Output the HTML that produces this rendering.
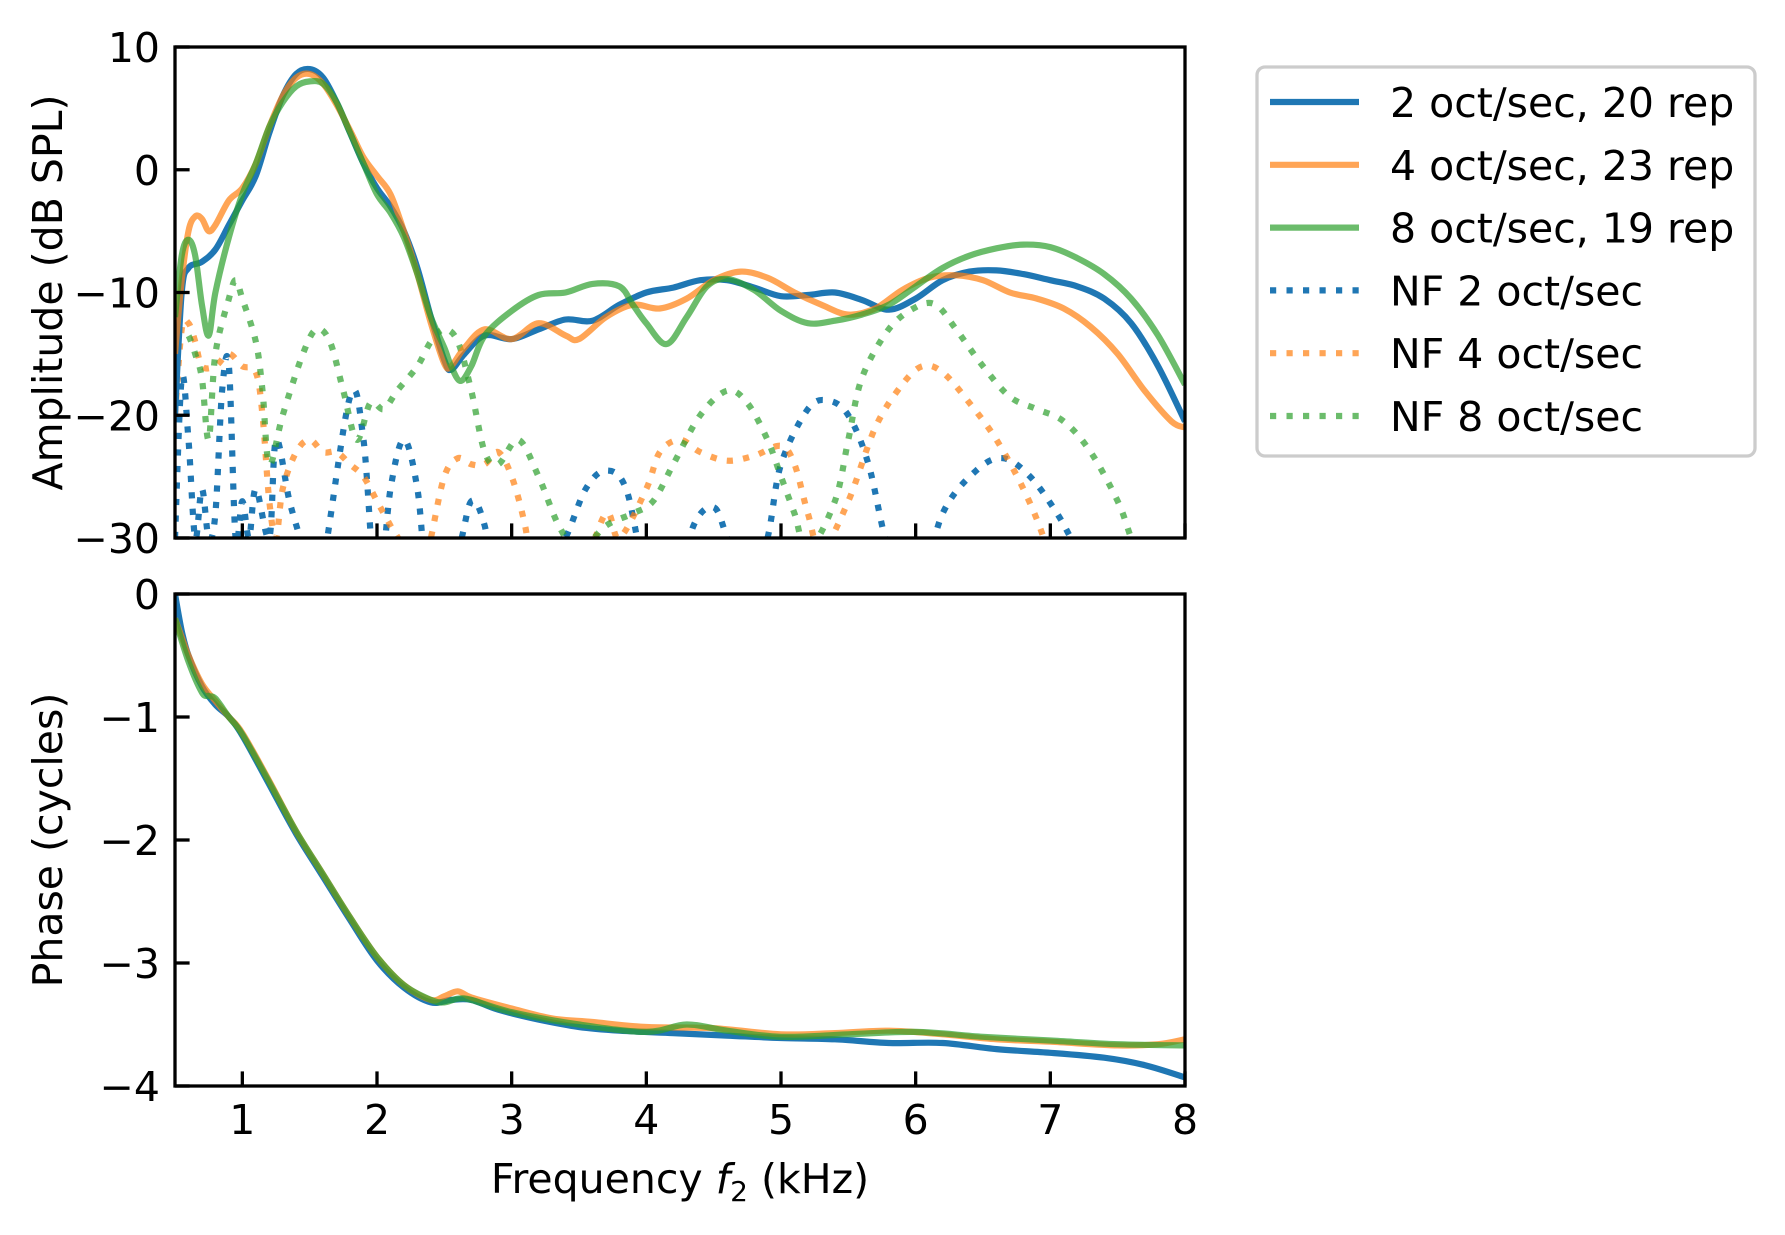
<!DOCTYPE html>
<html><head><meta charset="utf-8">
<style>
html,body{margin:0;padding:0;background:#fff;}
svg{display:block;font-family:"DejaVu Sans","Liberation Sans",sans-serif;}
</style></head>
<body>
<svg id="chart" width="1785" height="1235" viewBox="0 0 1785 1235" xmlns="http://www.w3.org/2000/svg">
<defs>
<clipPath id="clipTop"><rect x="175" y="47" width="1010" height="491"/></clipPath>
<clipPath id="clipBot"><rect x="175" y="594" width="1010" height="492"/></clipPath>
</defs>
<g id="topPanel"></g>
<g id="botPanel"></g>
<g id="legendG"></g>
</svg>
<script>
// ---- data ----
const ampBlueF = [0.5,0.55,0.6,0.7,0.8,0.9,1.0,1.1,1.2,1.3,1.4,1.5,1.6,1.7,1.8,1.9,2.0,2.1,2.2,2.3,2.4,2.5,2.55,2.65,2.8,3.0,3.2,3.4,3.6,3.8,4.0,4.2,4.4,4.6,4.8,5.0,5.2,5.4,5.6,5.8,6.0,6.2,6.4,6.6,6.8,7.0,7.2,7.4,7.6,7.8,8.0];
const ampBlueV = [-20,-10,-8,-7.5,-6.5,-4.5,-2.5,-0.5,3,6,7.8,8.2,7.5,5.5,3,0.5,-1.5,-3,-5,-8,-12,-15.5,-16.3,-15,-13.5,-13.8,-13,-12.2,-12.3,-11,-10,-9.6,-9,-9,-9.6,-10.3,-10.2,-10,-10.6,-11.4,-10.5,-9,-8.3,-8.2,-8.5,-9,-9.5,-10.5,-12.5,-16,-20.5];
const ampOrangeF = [0.5,0.55,0.6,0.65,0.7,0.75,0.8,0.9,1.0,1.1,1.2,1.3,1.4,1.5,1.6,1.7,1.8,1.9,2.0,2.1,2.2,2.3,2.4,2.5,2.55,2.65,2.8,3.0,3.2,3.4,3.5,3.7,3.9,4.1,4.3,4.5,4.7,4.9,5.1,5.3,5.5,5.7,5.9,6.1,6.3,6.5,6.7,6.9,7.1,7.3,7.5,7.7,7.9,8.0];
const ampOrangeV = [-15,-9,-5,-3.8,-4,-5,-4.5,-2.5,-1.5,0.5,3.5,6,7.5,7.8,7,5.3,3.2,1,-0.5,-2,-5,-8.5,-12.5,-15.8,-16,-14.5,-13,-13.8,-12.5,-13.5,-13.8,-12,-11,-11.3,-10.5,-9,-8.3,-8.8,-10,-11,-11.8,-11.3,-9.8,-8.8,-8.6,-9,-10,-10.5,-11.3,-12.8,-15,-18,-20.5,-21];
const ampGreenF = [0.5,0.55,0.6,0.65,0.7,0.75,0.8,0.9,1.0,1.1,1.2,1.3,1.4,1.5,1.6,1.7,1.8,1.9,2.0,2.1,2.2,2.3,2.4,2.5,2.55,2.62,2.7,2.8,3.0,3.2,3.4,3.6,3.8,3.9,4.0,4.15,4.3,4.45,4.6,4.8,5.0,5.2,5.4,5.6,5.8,6.0,6.2,6.4,6.6,6.8,7.0,7.2,7.4,7.6,7.8,8.0];
const ampGreenV = [-12,-7,-5.7,-7,-11,-13.5,-10,-5.5,-2,0.5,3.5,5.5,6.8,7.2,7,5.5,3,0.5,-2,-3.5,-5.5,-8.5,-12,-14.5,-16,-17.2,-16,-13.5,-11.5,-10.2,-10,-9.3,-9.5,-11,-12.5,-14.2,-12,-9.5,-8.9,-9.8,-11.5,-12.5,-12.3,-11.8,-11,-9.5,-8,-7,-6.4,-6.1,-6.3,-7.2,-8.5,-10.5,-13.5,-17.5];
const nfBlueF = [0.5,0.55,0.6,0.65,0.7,0.75,0.8,0.85,0.9,0.95,1.0,1.05,1.1,1.2,1.25,1.35,1.45,1.5,1.6,1.8,1.9,2.0,2.1,2.2,2.3,2.4,2.6,2.7,2.8,2.9,3.2,3.4,3.55,3.7,3.85,4.0,4.2,4.35,4.5,4.6,4.75,4.9,5.0,5.2,5.35,5.5,5.65,5.8,6.0,6.2,6.45,6.65,6.85,7.05,7.2,7.4,8.0];
const nfBlueV = [-30,-17,-22,-30,-26,-30,-28,-18,-16,-30,-27,-30,-26,-30,-22,-27,-31,-35,-32,-18.5,-22,-35,-26,-22,-26,-35,-31,-27,-29,-35,-34,-30,-26,-24.5,-26,-33,-35,-29,-27.5,-30,-35,-30,-24,-19.5,-18.8,-20,-24,-31,-35,-28,-24.5,-23.5,-25,-28,-31,-35,-35];
const nfOrangeF = [0.5,0.55,0.6,0.65,0.7,0.8,0.9,1.0,1.1,1.15,1.2,1.25,1.3,1.4,1.5,1.6,1.7,1.8,1.9,2.0,2.1,2.2,2.3,2.4,2.5,2.6,2.7,2.8,2.9,3.0,3.1,3.2,3.5,3.7,3.8,4.0,4.1,4.25,4.4,4.6,4.8,5.0,5.1,5.2,5.3,5.5,5.7,5.9,6.05,6.2,6.4,6.6,6.8,6.95,7.0];
const nfOrangeV = [-20,-13,-12.5,-14,-16,-16,-15,-16,-16.5,-20,-27,-30,-26,-23,-22,-23,-23,-24,-25,-27,-29,-31,-35,-30,-25,-23.5,-24,-24,-23,-25,-29,-35,-33,-28,-30,-26,-23,-22,-23,-23.7,-23.3,-22.5,-24,-28,-31,-27,-21,-17.5,-16,-16.5,-19,-22,-26,-30,-33];
const nfGreenF = [0.5,0.55,0.6,0.65,0.7,0.75,0.8,0.9,0.95,1.0,1.1,1.15,1.2,1.3,1.45,1.55,1.65,1.75,1.85,1.95,2.05,2.15,2.3,2.4,2.5,2.6,2.7,2.8,2.9,3.05,3.2,3.35,3.5,3.7,3.9,4.05,4.2,4.4,4.6,4.75,4.9,5.0,5.1,5.2,5.4,5.5,5.6,5.8,6.0,6.15,6.3,6.5,6.7,6.9,7.1,7.3,7.5,7.6,7.7];
const nfGreenV = [-13,-13,-13.5,-15,-17,-22,-15,-10.5,-9,-10.5,-14,-18,-24,-20,-15,-13,-14,-18,-22,-19,-19.5,-18,-16,-14,-13,-14,-18,-23,-24,-22,-25,-29,-31,-29,-28,-27,-24,-20,-18,-19,-22,-25,-28,-31,-27,-22,-17,-13,-11.2,-11,-13,-16,-18.5,-19.5,-20.5,-23,-27,-30,-33];
const phBlueF = [0.5,0.55,0.6,0.7,0.8,0.9,1.0,1.2,1.4,1.6,1.8,2.0,2.2,2.4,2.55,2.7,2.9,3.2,3.5,3.8,4.2,4.6,5.0,5.4,5.8,6.2,6.6,7.0,7.4,7.7,8.0];
const phBlueV = [0,-0.3,-0.5,-0.75,-0.9,-1.0,-1.15,-1.55,-1.95,-2.3,-2.65,-2.98,-3.2,-3.32,-3.3,-3.3,-3.38,-3.46,-3.52,-3.55,-3.57,-3.59,-3.61,-3.62,-3.65,-3.65,-3.7,-3.73,-3.77,-3.83,-3.93];
const phOrangeF = [0.5,0.55,0.6,0.7,0.8,0.9,1.0,1.2,1.4,1.6,1.8,2.0,2.2,2.4,2.5,2.6,2.7,3.0,3.3,3.6,4.0,4.5,5.0,5.4,5.8,6.2,6.6,7.0,7.5,7.8,8.0];
const phOrangeV = [-0.2,-0.35,-0.5,-0.73,-0.87,-1.0,-1.13,-1.52,-1.93,-2.28,-2.63,-2.95,-3.18,-3.3,-3.27,-3.23,-3.28,-3.37,-3.45,-3.48,-3.52,-3.53,-3.58,-3.57,-3.55,-3.58,-3.62,-3.64,-3.67,-3.66,-3.62];
const phGreenF = [0.5,0.6,0.7,0.75,0.8,0.9,1.0,1.2,1.4,1.6,1.8,2.0,2.2,2.4,2.5,2.6,2.7,3.0,3.5,4.0,4.3,4.6,5.0,5.5,6.0,6.5,7.0,7.5,8.0];
const phGreenV = [-0.2,-0.55,-0.8,-0.83,-0.85,-1.0,-1.14,-1.53,-1.93,-2.28,-2.63,-2.95,-3.18,-3.3,-3.32,-3.29,-3.3,-3.4,-3.5,-3.56,-3.5,-3.55,-3.6,-3.58,-3.56,-3.6,-3.63,-3.66,-3.67];
const xTicks = [1,2,3,4,5,6,7,8];
const xTickLabels = ["1","2","3","4","5","6","7","8"];
const ampTicks = [10,0,-10,-20,-30];
const ampTickLabels = ["10","0","\u221210","\u221220","\u221230"];
const phTicks = [0,-1,-2,-3,-4];
const phTickLabels = ["0","\u22121","\u22122","\u22123","\u22124"];
const legendLabels = ["2 oct/sec, 20 rep","4 oct/sec, 23 rep","8 oct/sec, 19 rep","NF 2 oct/sec","NF 4 oct/sec","NF 8 oct/sec"];

// ---- layout ----
const NS="http://www.w3.org/2000/svg";
const L=175,R=1185,T1=47,B1=538,T2=594,B2=1086;
const xs=f=>L+(f-0.5)/(8-0.5)*(R-L);
const ya=v=>T1+(10-v)/40*(B1-T1);
const yp=v=>T2+(0-v)/4*(B2-T2);
const C={b:"#1f77b4",o:"#ff7f0e",g:"#2ca02c"};
function mk(tag,attrs,parent){const e=document.createElementNS(NS,tag);for(const k in attrs)e.setAttribute(k,attrs[k]);parent.appendChild(e);return e;}
function pathD(F,V,ys){const p=F.map((f,i)=>[xs(f),ys(V[i])]);let d="M"+p[0][0].toFixed(1)+","+p[0][1].toFixed(1);
 for(let i=0;i<p.length-1;i++){const p0=p[i-1]||p[i],p1=p[i],p2=p[i+1],p3=p[i+2]||p2;
  const c1=[p1[0]+(p2[0]-p0[0])/6,p1[1]+(p2[1]-p0[1])/6],c2=[p2[0]-(p3[0]-p1[0])/6,p2[1]-(p3[1]-p1[1])/6];
  d+=" C"+c1.map(n=>n.toFixed(1)).join(",")+" "+c2.map(n=>n.toFixed(1)).join(",")+" "+p2.map(n=>n.toFixed(1)).join(",");}
 return d;}
const gTop=document.getElementById('topPanel'),gBot=document.getElementById('botPanel'),gLeg=document.getElementById('legendG');

function series(g,clip,F,V,ys,color,dotted,name){
 const p=mk('path',{d:pathD(F,V,ys),fill:"none",stroke:color,"stroke-width":6.2,"stroke-opacity":color===C.b?1:0.7,"clip-path":"url(#"+clip+")","stroke-linejoin":"round"},g);
 if(dotted){p.setAttribute('stroke-dasharray','6.2,10.3');}
 
 
}
series(gTop,'clipTop',nfBlueF,nfBlueV,ya,C.b,true,'nf-2-oct-line');
series(gTop,'clipTop',nfOrangeF,nfOrangeV,ya,C.o,true,'nf-4-oct-line');
series(gTop,'clipTop',nfGreenF,nfGreenV,ya,C.g,true,'nf-8-oct-line');
series(gTop,'clipTop',ampBlueF,ampBlueV,ya,C.b,false,'amp-2-oct-line');
series(gTop,'clipTop',ampOrangeF,ampOrangeV,ya,C.o,false,'amp-4-oct-line');
series(gTop,'clipTop',ampGreenF,ampGreenV,ya,C.g,false,'amp-8-oct-line');
series(gBot,'clipBot',phBlueF,phBlueV,yp,C.b,false,'phase-2-oct-line');
series(gBot,'clipBot',phOrangeF,phOrangeV,yp,C.o,false,'phase-4-oct-line');
series(gBot,'clipBot',phGreenF,phGreenV,yp,C.g,false,'phase-8-oct-line');

function axes(g,T,B,yt,ytl,ys,showX,ylabel,ycenter){
 const fr=mk('rect',{x:L,y:T,width:R-L,height:B-T,fill:"none",stroke:"#000","stroke-width":3.3},g);
 
 
 xTicks.forEach((t,i)=>{const x=xs(t);
  const tk=mk('line',{x1:x,x2:x,y1:B,y2:B-14.6,stroke:"#000","stroke-width":3.3},g);
  
  
  if(showX){const tx=mk('text',{x:x,y:B+48,"text-anchor":"middle","font-size":41},g);tx.textContent=xTickLabels[i];
   
   }
 });
 yt.forEach((t,i)=>{const y=ys(t);
  const tk=mk('line',{x1:L,x2:L+14.6,y1:y,y2:y,stroke:"#000","stroke-width":3.3},g);
  
  
  const tx=mk('text',{x:L-15,y:y+15,"text-anchor":"end","font-size":41},g);tx.textContent=ytl[i];
  
  
 });
 const yl=mk('text',{x:0,y:0,"text-anchor":"middle","font-size":41,transform:"translate(62,"+ycenter+") rotate(-90)"},g);
 yl.textContent=ylabel;
 
 
}
axes(gTop,T1,B1,ampTicks,ampTickLabels,ya,false,"Amplitude (dB SPL)",(T1+B1)/2);
axes(gBot,T2,B2,phTicks,phTickLabels,yp,true,"Phase (cycles)",(T2+B2)/2);
const xl=mk('text',{x:(L+R)/2,y:1193,"text-anchor":"middle","font-size":41},gBot);
const t1=mk('tspan',{},xl);t1.textContent='Frequency ';
const t2=mk('tspan',{"font-style":"italic"},xl);t2.textContent='f';
const t3=mk('tspan',{"font-size":28,dy:8},xl);t3.textContent='2';
const t4=mk('tspan',{dy:-8},xl);t4.textContent=' (kHz)';



// legend
const box=mk('rect',{x:1257,y:67,width:498,height:389,rx:8,fill:"#fff","fill-opacity":0.8,stroke:"#cccccc","stroke-width":3.3},gLeg);


const legColors=[C.b,C.o,C.g,C.b,C.o,C.g];
legendLabels.forEach((lab,i)=>{const y=102+i*62.8;
 const ln=mk('line',{x1:1270,x2:1359,y1:y,y2:y,stroke:legColors[i],"stroke-width":6.2,"stroke-opacity":legColors[i]===C.b?1:0.7},gLeg);
 if(i>=3)ln.setAttribute('stroke-dasharray','6.2,10.3');
 
 
 const tx=mk('text',{x:1390,y:y+15,"font-size":41},gLeg);tx.textContent=lab;
 
 
});
</script>
</body></html>
